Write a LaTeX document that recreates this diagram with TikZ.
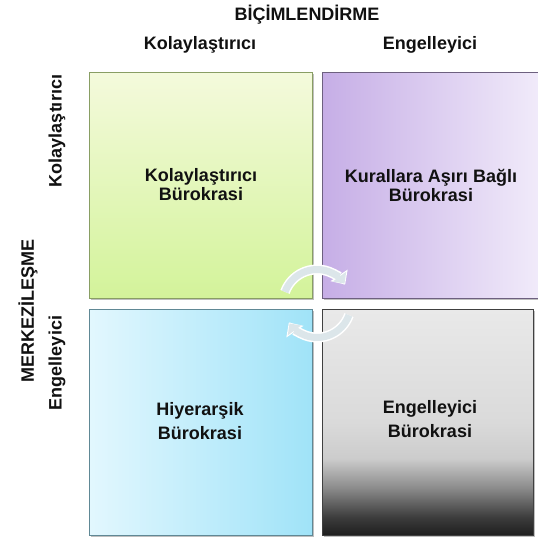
\documentclass[tikz,border=0pt]{standalone}
\usepackage{fontspec}
\setmainfont{Liberation Sans}
\usetikzlibrary{arrows.meta,shadows}
\definecolor{txt}{HTML}{111111}
\definecolor{grnTop}{HTML}{F4FADC}
\definecolor{grnBot}{HTML}{D3F39A}
\definecolor{purL}{HTML}{C6AEE6}
\definecolor{purR}{HTML}{F1EBFA}
\definecolor{bluL}{HTML}{E2F7FE}
\definecolor{bluR}{HTML}{A0E3F8}
\definecolor{arrowfill}{HTML}{DCE6EA}
\definecolor{g1}{HTML}{1E1E1E}
\definecolor{g2}{HTML}{3C3C3C}
\definecolor{g3}{HTML}{8C8C8C}
\definecolor{g4}{HTML}{CCCCCC}
\definecolor{g5}{HTML}{DADADA}
\definecolor{g6}{HTML}{E9E9E9}
\pgfdeclareverticalshading{grayshade}{100bp}{color(0bp)=(g1); color(25bp)=(g1); color(29bp)=(g2); color(35.6bp)=(g3); color(42bp)=(g4); color(50bp)=(g5); color(75bp)=(g6); color(100bp)=(g6)}
\begin{document}
\begin{tikzpicture}[x=1pt,y=-1pt,
  lbl/.style={font=\fontsize{18}{20}\selectfont\bfseries, text=txt, inner sep=0pt},
  quad/.style={draw=#1, line width=0.8pt, inner sep=0pt, anchor=north west,
    drop shadow={shadow xshift=1.2pt, shadow yshift=-1.5pt, opacity=0.25, fill=black}},
  boxtxt/.style={font=\fontsize{18}{19}\selectfont\bfseries, text=txt, align=center, inner sep=0pt},
  boxtxtb/.style={font=\fontsize{18}{24}\selectfont\bfseries, text=txt, align=center, inner sep=0pt},
  arrw/.style={line width=10pt, draw=white, -{Triangle[length=11pt,width=20pt]}},
  arri/.style={line width=7pt, draw=arrowfill, -{Triangle[length=8.5pt,width=16pt]}}
]
\useasboundingbox (0,0) rectangle (538,541);
% quadrants
\node[quad=black!35!grnBot, minimum width=223pt, minimum height=226pt, top color=grnTop, bottom color=grnBot] (tl) at (89,72) {};
\node[quad=black!45!purL, minimum width=218pt, minimum height=226pt, left color=purL, right color=purR] (tr) at (322,72) {};
\node[quad=black!40!bluR, minimum width=223pt, minimum height=226pt, left color=bluL, right color=bluR] (bl) at (89,309) {};
\node[quad=black!75, minimum width=211pt, minimum height=226pt, shading=grayshade] (br) at (322,309) {};
% box texts
\node[boxtxt] (tlt) at (201,185) {Kolayla\c{s}t\i r\i c\i\\B\"urokrasi};
\node[boxtxt] (trt) at (431,185) {Kurallara A\c{s}\i r\i{} Ba\u{g}l\i\\B\"urokrasi};
\node[boxtxtb] (blt) at (200,421) {Hiyerar\c{s}ik\\B\"urokrasi};
\node[boxtxtb] (brt) at (430,419) {Engelleyici\\B\"urokrasi};
% headers
\node[lbl] (top) at (307,15) {B\.{I}\c{C}\.{I}MLEND\.{I}RME};
\node[lbl] (c1) at (200,45) {Kolayla\c{s}t\i r\i c\i};
\node[lbl] (c2) at (430,45) {Engelleyici};
\node[lbl, rotate=90] (side) at (28,311) {MERKEZ\.{I}LE\c{S}ME};
\node[lbl, rotate=90] (r1) at (57,131) {Kolayla\c{s}t\i r\i c\i};
\node[lbl, rotate=90] (r2) at (57,363) {Engelleyici};
% circular arrows
\coordinate (c) at (317,303.5);
\draw[arrw] ([shift={(-160:34)}]c) arc[start angle=-160, end angle=-34, radius=34];
\draw[arri] ([shift={(-160:34)}]c) arc[start angle=-160, end angle=-36, radius=34];
\draw[arrw] ([shift={(20:34)}]c) arc[start angle=20, end angle=146, radius=34];
\draw[arri] ([shift={(20:34)}]c) arc[start angle=20, end angle=144, radius=34];
\end{tikzpicture}
\end{document}
